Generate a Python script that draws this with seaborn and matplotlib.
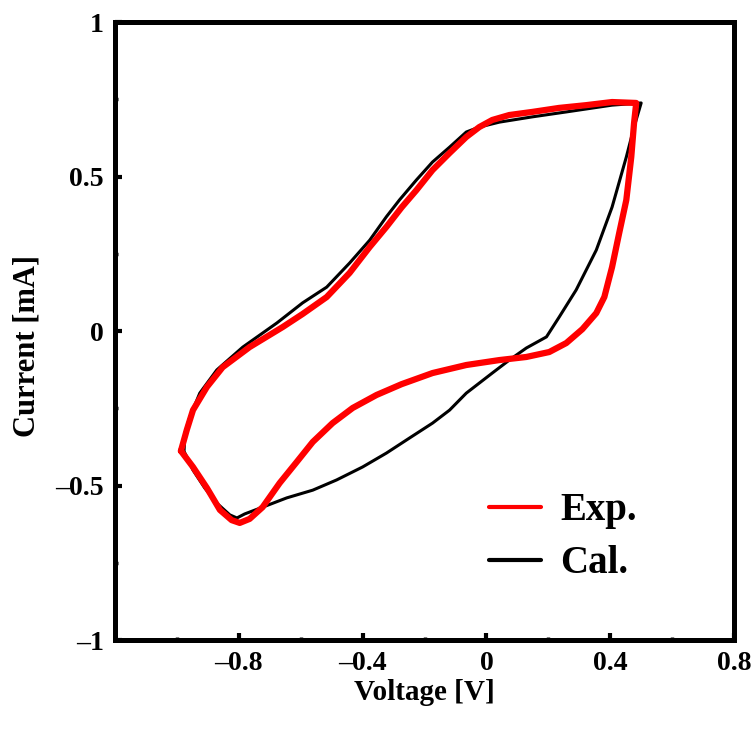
import numpy as np
import pandas as pd
import matplotlib
matplotlib.use("Agg")
import matplotlib.pyplot as plt
from matplotlib.lines import Line2D
from matplotlib.ticker import MultipleLocator, FuncFormatter
import seaborn as sns

# Measured cyclic voltammogram (Exp.) — one closed loop
exp_voltage = [-0.987, -0.948, -0.903, -0.861, -0.823, -0.797, -0.765, -0.723, -0.668,
               -0.613, -0.561, -0.497, -0.432, -0.355, -0.274, -0.174, -0.065, 0.042,
               0.129, 0.203, 0.258, 0.310, 0.355, 0.381, 0.406, 0.429, 0.452, 0.468,
               0.477, 0.484, 0.406, 0.323, 0.235, 0.148, 0.074, 0.019, -0.023, -0.065,
               -0.119, -0.174, -0.226, -0.274, -0.323, -0.377, -0.442, -0.516, -0.594,
               -0.658, -0.765, -0.852, -0.903, -0.948, -0.968, -0.987]
exp_current = [-0.388, -0.440, -0.508, -0.579, -0.612, -0.621, -0.608, -0.570, -0.492,
               -0.424, -0.359, -0.298, -0.249, -0.207, -0.172, -0.136, -0.110, -0.094,
               -0.084, -0.068, -0.039, 0.006, 0.058, 0.110, 0.207, 0.317, 0.424, 0.563,
               0.673, 0.738, 0.741, 0.731, 0.722, 0.709, 0.699, 0.683, 0.660, 0.628,
               0.576, 0.521, 0.456, 0.400, 0.337, 0.272, 0.188, 0.110, 0.055,
               0.013, -0.052, -0.117, -0.181, -0.256, -0.320, -0.388]

# Calculated cyclic voltammogram (Cal.)
cal_voltage = [-0.974, -0.948, -0.910, -0.871, -0.829, -0.806, -0.781, -0.723, -0.645,
               -0.561, -0.484, -0.400, -0.323, -0.248, -0.174, -0.119, -0.065, 0.019,
               0.074, 0.129, 0.194, 0.235, 0.290, 0.355, 0.406, 0.452, 0.477, 0.500,
               0.406, 0.258, 0.148, 0.042, -0.023, -0.065, -0.119, -0.174, -0.226,
               -0.281, -0.323, -0.377, -0.442, -0.516, -0.594, -0.677, -0.787, -0.871,
               -0.926, -0.958, -0.974, -0.977]
cal_current = [-0.395, -0.450, -0.508, -0.557, -0.595, -0.605, -0.592, -0.570, -0.540,
               -0.515, -0.482, -0.440, -0.395, -0.346, -0.298, -0.256, -0.201, -0.136,
               -0.094, -0.055, -0.019, 0.045, 0.133, 0.262, 0.401, 0.563, 0.660, 0.738,
               0.731, 0.709, 0.693, 0.676, 0.660, 0.644, 0.595, 0.547, 0.489,
               0.424, 0.370, 0.294, 0.220, 0.142, 0.091, 0.026, -0.052, -0.126,
               -0.201, -0.278, -0.330, -0.392]

series_labels = ["Exp.", "Cal."]
series_colors = ["#ff0000", "#000000"]

x_ticks = [-0.8, -0.4, 0.0, 0.4, 0.8]
y_ticks = [-1.0, -0.5, 0.0, 0.5, 1.0]

exp_df = pd.DataFrame({"Voltage": exp_voltage, "Current": exp_current})
cal_df = pd.DataFrame({"Voltage": cal_voltage, "Current": cal_current})

sns.set_style("white")
plt.rcParams["font.family"] = ["Liberation Serif", "DejaVu Serif"]
plt.rcParams["font.weight"] = "bold"
for key in ["text.color", "axes.labelcolor", "xtick.color", "ytick.color"]:
    plt.rcParams[key] = "black"

fig = plt.figure(figsize=(7.53, 7.36), dpi=100)
ax = fig.add_axes([0.1527, 0.1304, 0.8221, 0.8397])

sns.lineplot(data=cal_df, x="Voltage", y="Current", sort=False, estimator=None,
             color=series_colors[1], linewidth=2.2, ax=ax, zorder=2)
sns.lineplot(data=exp_df, x="Voltage", y="Current", sort=False, estimator=None,
             color=series_colors[0], linewidth=4.5, ax=ax, zorder=3,
             solid_joinstyle="round", solid_capstyle="round")

ax.set_xlim(-1.2, 0.8)
ax.set_ylim(-1.0, 1.0)
ax.set_xticks(x_ticks)
ax.set_yticks(y_ticks)
ax.xaxis.set_minor_locator(MultipleLocator(0.2))
ax.yaxis.set_minor_locator(MultipleLocator(0.25))


def fmt(v, _pos):
    if abs(v) < 1e-9:
        return "0"
    return f"{v:g}".replace("-", "\u2013")


ax.xaxis.set_major_formatter(FuncFormatter(fmt))
ax.yaxis.set_major_formatter(FuncFormatter(fmt))

for side in ["left", "bottom", "top", "right"]:
    ax.spines[side].set_visible(True)
    ax.spines[side].set_linewidth(3.6)
    ax.spines[side].set_color("black")

ax.tick_params(axis="both", which="major", direction="in", length=5, width=3,
               labelsize=20, pad=8, top=False, right=False, bottom=True, left=True)
ax.tick_params(axis="both", which="minor", direction="in", length=2.5, width=2.5,
               top=False, right=False, bottom=True, left=True)
for lab in ax.get_xticklabels() + ax.get_yticklabels():
    lab.set_fontweight("bold")

ax.set_xlabel("Voltage [V]", fontsize=21, fontweight="bold", labelpad=2)
ax.set_ylabel("Current [mA]", fontsize=22, fontweight="bold")
ax.yaxis.set_label_coords(-0.118, 0.475)

handles = [Line2D([0], [0], color=c, linewidth=3) for c in series_colors]
ax.legend(handles, series_labels, loc="lower right", bbox_to_anchor=(0.90, 0.037),
          frameon=False, prop={"family": "Liberation Serif", "weight": "bold", "size": 28},
          handlelength=1.33, handletextpad=0.5, labelspacing=0.41)

fig.savefig("out.png", dpi=100)
